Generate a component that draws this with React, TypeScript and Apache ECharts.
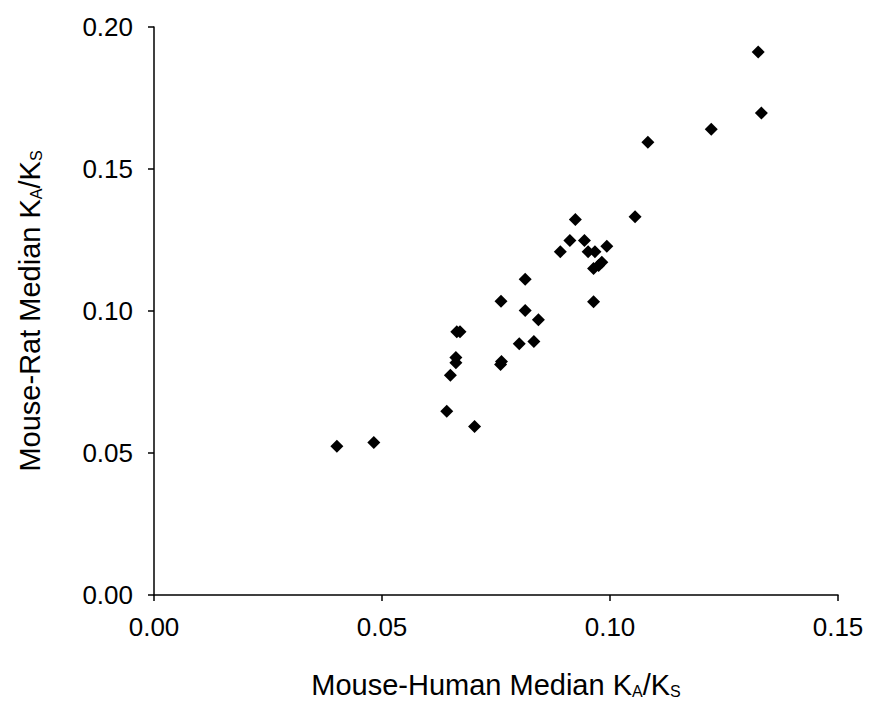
import React, { useEffect, useRef } from "react";
import * as echarts from "echarts";

const xValues = [
  0.0401, 0.0482, 0.0642, 0.0703, 0.0650, 0.0662, 0.0662, 0.0664, 0.0671,
  0.0760, 0.0762, 0.0761, 0.0801, 0.0833, 0.0814, 0.0843, 0.0814, 0.0964,
  0.0891, 0.0912, 0.0924, 0.0944, 0.0952, 0.0967, 0.0993, 0.0964, 0.0975,
  0.0982, 0.1055, 0.1083, 0.1222, 0.1325, 0.1332,
];
const yValues = [
  0.0524, 0.0537, 0.0647, 0.0593, 0.0774, 0.0836, 0.0818, 0.0927, 0.0927,
  0.0812, 0.0822, 0.1034, 0.0885, 0.0893, 0.1002, 0.0969, 0.1112, 0.1033,
  0.1209, 0.1248, 0.1322, 0.1248, 0.1209, 0.1209, 0.1228, 0.1150, 0.1160,
  0.1172, 0.1332, 0.1594, 0.1640, 0.1912, 0.1697,
];
const xTicks = ["0.00", "0.05", "0.10", "0.15"];
const yTicks = ["0.00", "0.05", "0.10", "0.15", "0.20"];

export default function App() {
  const ref = useRef<HTMLDivElement>(null);
  useEffect(() => {
    if (!ref.current) return;
    const chart = echarts.init(ref.current, undefined, { renderer: "svg" });
    const font = "Liberation Sans, Arial, sans-serif";
    const axisCommon = {
      axisLine: { show: true, lineStyle: { color: "#000", width: 1.5 } },
      axisTick: { show: true, inside: false, length: 6, lineStyle: { color: "#000", width: 1.5 } },
      splitLine: { show: false },
    };
    const rich = {
      m: { fontSize: 29, fontFamily: font, color: "#000", verticalAlign: "bottom", lineHeight: 31 },
      s: { fontSize: 16, fontFamily: font, color: "#000", verticalAlign: "bottom", lineHeight: 17 },
    };
    chart.setOption({
      animation: false,
      backgroundColor: "#fff",
      grid: { left: 154, right: 35, top: 27, bottom: 105, containLabel: false },
      xAxis: {
        type: "value",
        min: 0,
        max: 0.15,
        interval: 0.05,
        ...axisCommon,
        axisLabel: {
          color: "#000",
          fontSize: 26,
          fontFamily: font,
          margin: 19,
          formatter: (v: number) => xTicks[Math.round(v / 0.05)] ?? "",
        },
        name: "{m|Mouse-Human Median K}{s|A}{m|/K}{s|S}",
        nameLocation: "middle",
        nameGap: 73,
        nameTextStyle: { rich },
      },
      yAxis: {
        type: "value",
        min: 0,
        max: 0.2,
        interval: 0.05,
        ...axisCommon,
        axisLabel: {
          color: "#000",
          fontSize: 26,
          fontFamily: font,
          margin: 21,
          formatter: (v: number) => yTicks[Math.round(v / 0.05)] ?? "",
        },
        name: "{m|Mouse-Rat Median K}{s|A}{m|/K}{s|S}",
        nameLocation: "middle",
        nameGap: 110,
        nameRotate: 90,
        nameTextStyle: { rich },
      },
      series: [
        {
          type: "scatter",
          symbol: "diamond",
          symbolSize: 13,
          itemStyle: { color: "#000", opacity: 1 },
          data: xValues.map((x, i) => [x, yValues[i]]),
        },
      ],
    });
    return () => chart.dispose();
  }, []);
  return (
    <div
      ref={ref}
      style={{ position: "fixed", left: 0, top: 0, width: 873, height: 704, background: "#fff" }}
    />
  );
}
